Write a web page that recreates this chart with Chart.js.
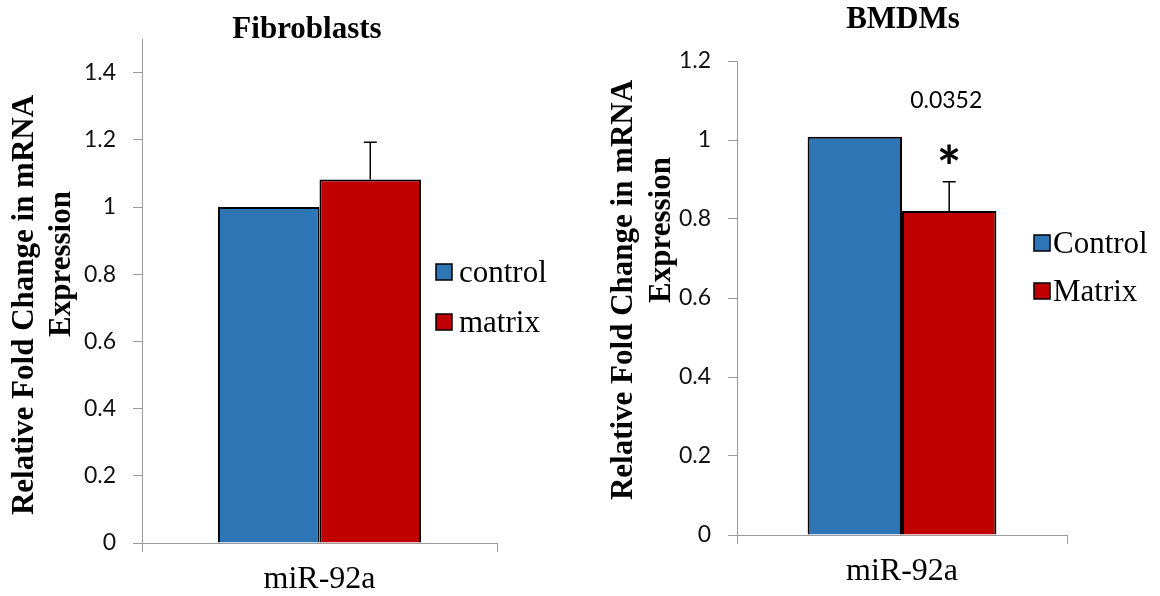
<!DOCTYPE html>
<html>
<head>
<meta charset="utf-8">
<script src="https://cdn.jsdelivr.net/npm/chart.js@4.4.0/dist/chart.umd.min.js"></script>
<style>
  html, body { margin: 0; padding: 0; background: #fff; }
  #wrap { position: relative; width: 1160px; height: 596px; overflow: hidden; }
  canvas { position: absolute; top: 0; }
  #fibro { left: 0; }
  #bmdm { left: 580px; }
</style>
</head>
<body>
<div id="wrap">
  <canvas id="fibro" width="580" height="596"></canvas>
  <canvas id="bmdm" width="580" height="596"></canvas>
</div>
<script>
// ---- data ----
const categories = ['miR-92a'];
const seriesColors = ['#2E75B6', '#C00000'];

const fibroSeries = ['control', 'matrix'];
const fibroValues = [1.0, 1.082];
const fibroErrors = [0, 0.111];
const fibroTicks = [0, 0.2, 0.4, 0.6, 0.8, 1, 1.2, 1.4];

const bmdmSeries = ['Control', 'Matrix'];
const bmdmValues = [1.008, 0.82];
const bmdmErrors = [0, 0.074];
const bmdmTicks = [0, 0.2, 0.4, 0.6, 0.8, 1, 1.2];
const bmdmPValue = '0.0352';

const yTitleLines = ['Relative Fold Change in mRNA', 'Expression'];

const SERIF = '"Liberation Serif", "Times New Roman", serif';
const SANS = 'Lato, "Open Sans", sans-serif';
const AXIS_GREY = '#9a9a9a';

// ---- plugins ----
// upward-only error bars from each dataset's `errors` array
const errorBars = {
  id: 'errorBars',
  afterDatasetsDraw(chart) {
    const { ctx } = chart;
    const y = chart.scales.y;
    chart.data.datasets.forEach((ds, i) => {
      const meta = chart.getDatasetMeta(i);
      meta.data.forEach((bar, j) => {
        const err = ds.errors ? ds.errors[j] : 0;
        if (!err) return;
        const y0 = y.getPixelForValue(ds.data[j]);
        const y1 = y.getPixelForValue(ds.data[j] + err);
        ctx.save();
        ctx.strokeStyle = '#000';
        ctx.lineWidth = 1.5;
        ctx.beginPath();
        ctx.moveTo(bar.x, y0);
        ctx.lineTo(bar.x, y1);
        ctx.moveTo(bar.x - 6.5, y1);
        ctx.lineTo(bar.x + 6.5, y1);
        ctx.stroke();
        ctx.restore();
      });
    });
  }
};

// chart heading, rotated two-line y title, and side legend
const decorations = {
  id: 'decorations',
  afterDraw(chart, args, opts) {
    const { ctx } = chart;
    ctx.save();
    ctx.fillStyle = '#000';

    // heading
    ctx.font = `bold 31px ${SERIF}`;
    ctx.textAlign = 'center';
    ctx.textBaseline = 'alphabetic';
    ctx.fillText(opts.heading, opts.headingX, opts.headingY);

    // y title
    ctx.font = `bold 31px ${SERIF}`;
    yTitleLines.forEach((line, k) => {
      ctx.save();
      ctx.translate(opts.yTitleX[k], opts.yTitleY[k]);
      ctx.rotate(-Math.PI / 2);
      ctx.textAlign = 'center';
      ctx.fillText(line, 0, 0);
      ctx.restore();
    });

    // legend
    ctx.font = `31px ${SERIF}`;
    ctx.textAlign = 'left';
    ctx.textBaseline = 'middle';
    chart.data.datasets.forEach((ds, i) => {
      const cy = opts.legendY[i];
      ctx.fillStyle = ds.backgroundColor;
      ctx.fillRect(opts.legendX, cy - 8, 16, 16);
      ctx.strokeStyle = '#000';
      ctx.lineWidth = 1.5;
      ctx.strokeRect(opts.legendX, cy - 8, 16, 16);
      ctx.fillStyle = '#000';
      ctx.fillText(ds.label, opts.legendTextX, cy + 2);
    });
    ctx.restore();
  }
};

// significance marker above a bar
const significance = {
  id: 'significance',
  afterDatasetsDraw(chart, args, opts) {
    if (!opts || !opts.text) return;
    const ds = chart.data.datasets[opts.dataset];
    const bar = chart.getDatasetMeta(opts.dataset).data[opts.index];
    const top = chart.scales.y.getPixelForValue(ds.data[opts.index] + (ds.errors[opts.index] || 0));
    const { ctx } = chart;
    ctx.save();
    ctx.fillStyle = '#000';
    ctx.textAlign = 'center';
    ctx.textBaseline = 'alphabetic';
    ctx.font = `bold 58px ${SANS}`;
    ctx.fillText('*', bar.x, top + 6);
    ctx.font = `23px ${SANS}`;
    ctx.fillText(opts.text, bar.x - 3, top - 74);
    ctx.restore();
  }
};

function makeChart(id, cfg) {
  return new Chart(document.getElementById(id), {
    type: 'bar',
    data: {
      labels: categories,
      datasets: cfg.series.map((name, i) => ({
        label: name,
        data: [cfg.values[i]],
        errors: [cfg.errors[i]],
        backgroundColor: seriesColors[i],
        borderColor: '#000',
        borderWidth: 2,
        barPercentage: 1,
        categoryPercentage: 0.572
      }))
    },
    options: {
      responsive: false,
      animation: false,
      devicePixelRatio: 1,
      layout: { padding: { left: 0, right: cfg.padRight, top: cfg.padTop, bottom: 0 } },
      plugins: {
        legend: { display: false },
        tooltip: { enabled: false },
        decorations: cfg.deco,
        significance: cfg.signif || {}
      },
      scales: {
        x: {
          grid: { drawOnChartArea: false, offset: true, tickLength: 9, color: AXIS_GREY, lineWidth: 1 },
          border: { color: AXIS_GREY, width: 1 },
          ticks: { color: '#000', font: { family: SERIF, size: 32 }, padding: 8 },
          afterFit: s => { s.height = cfg.xHeight; }
        },
        y: {
          min: 0,
          max: cfg.max,
          bounds: 'data',
          grid: { drawOnChartArea: false, tickLength: 9, color: AXIS_GREY, lineWidth: 1 },
          border: { color: AXIS_GREY, width: 1 },
          ticks: { color: '#111', font: { family: SANS, size: 23 }, padding: 17, callback: v => String(v) },
          afterBuildTicks: s => { s.ticks = cfg.ticks.map(v => ({ value: v })); },
          afterFit: s => { s.width = cfg.yWidth; }
        }
      }
    },
    plugins: [errorBars, significance, decorations]
  });
}

makeChart('fibro', {
  series: fibroSeries, values: fibroValues, errors: fibroErrors, ticks: fibroTicks, max: 1.5,
  yWidth: 142, padRight: 83, padTop: 39, xHeight: 53,
  deco: {
    heading: 'Fibroblasts', headingX: 307, headingY: 38,
    yTitleX: [33, 70], yTitleY: [305, 264],
    legendX: 436, legendTextX: 459, legendY: [272, 322]
  }
});

makeChart('bmdm', {
  series: bmdmSeries, values: bmdmValues, errors: bmdmErrors, ticks: bmdmTicks, max: 1.2,
  yWidth: 157, padRight: 93, padTop: 61, xHeight: 61,
  deco: {
    heading: 'BMDMs', headingX: 323, headingY: 28,
    yTitleX: [52, 90], yTitleY: [290, 230],
    legendX: 454, legendTextX: 473, legendY: [243, 291]
  },
  signif: { dataset: 1, index: 0, text: bmdmPValue }
});
</script>
</body>
</html>
